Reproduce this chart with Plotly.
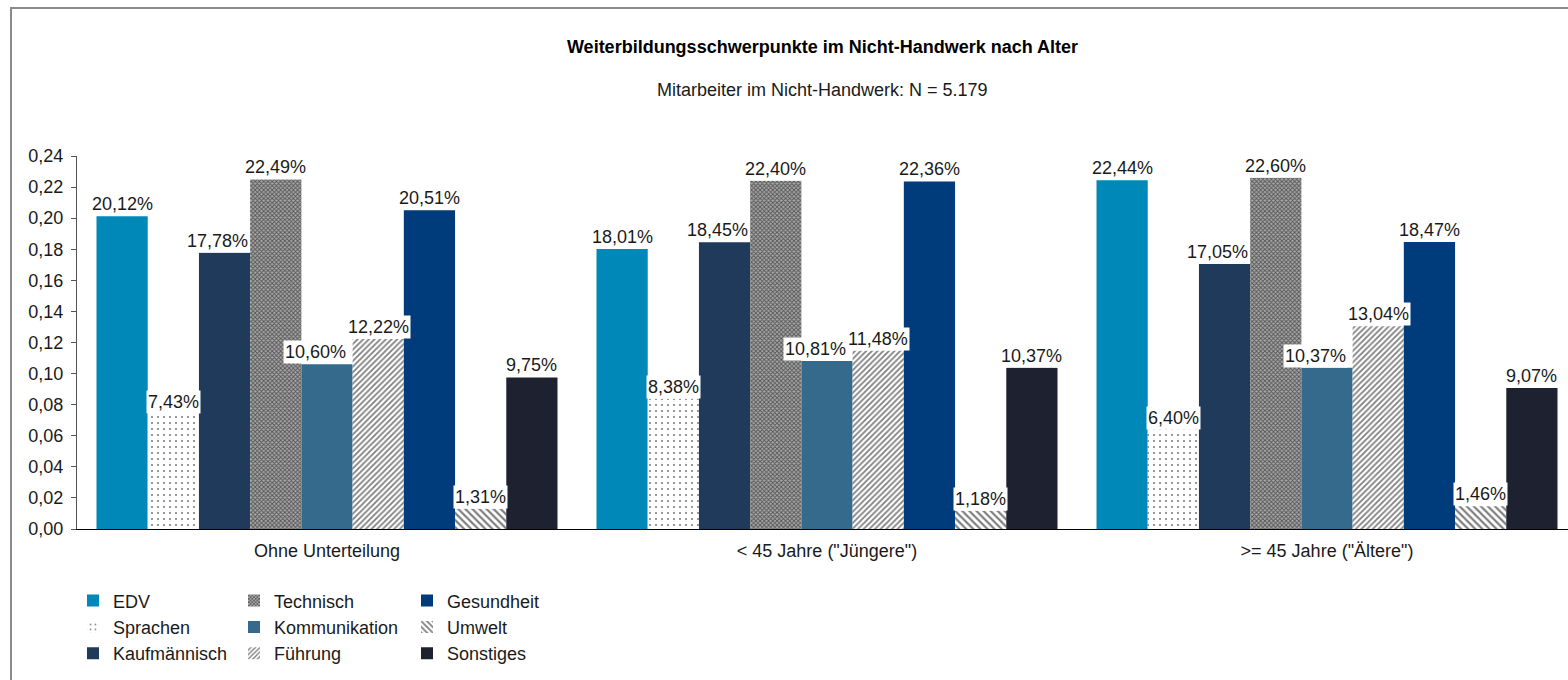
import plotly.graph_objects as go

# Data: share of training focus areas by age group (non-craft employees)
groups = ["Ohne Unterteilung", "< 45 Jahre (\"Jüngere\")", ">= 45 Jahre (\"Ältere\")"]
areas = ["EDV", "Sprachen", "Kaufmännisch", "Technisch", "Kommunikation",
         "Führung", "Gesundheit", "Umwelt", "Sonstiges"]

edv = [20.12, 18.01, 22.44]
sprachen = [7.43, 8.38, 6.40]
kaufmaennisch = [17.78, 18.45, 17.05]
technisch = [22.49, 22.40, 22.60]
kommunikation = [10.60, 10.81, 10.37]
fuehrung = [12.22, 11.48, 13.04]
gesundheit = [20.51, 22.36, 18.47]
umwelt = [1.31, 1.18, 1.46]
sonstiges = [9.75, 10.37, 9.07]

series = [edv, sprachen, kaufmaennisch, technisch, kommunikation,
          fuehrung, gesundheit, umwelt, sonstiges]

y_ticks = [0.00, 0.02, 0.04, 0.06, 0.08, 0.10, 0.12, 0.14, 0.16, 0.18, 0.20, 0.22, 0.24]

FONT = "Liberation Sans, Arial, sans-serif"
TXT = "#1a1a1a"

solid = lambda c: dict(color=c, line=dict(width=0))
styles = [
    solid("#0088B8"),
    dict(color="white", line=dict(width=0),
         pattern=dict(shape=".", fgcolor="#000000", bgcolor="white", size=6, solidity=0.1)),
    solid("#1F3A5A"),
    dict(color="#777777", line=dict(width=0),
         pattern=dict(shape="x", fgcolor="#000000", bgcolor="#a8a8a8", size=3, solidity=0.5)),
    solid("#356A8D"),
    dict(color="white", line=dict(width=0),
         pattern=dict(shape="/", fgcolor="#000000", bgcolor="white", size=4, solidity=0.45)),
    solid("#003B7B"),
    dict(color="white", line=dict(width=0),
         pattern=dict(shape="\\", fgcolor="#000000", bgcolor="white", size=5, solidity=0.45)),
    solid("#1E2130"),
]
legend_of = ["legend", "legend", "legend", "legend2", "legend2", "legend2",
             "legend3", "legend3", "legend3"]
# small horizontal nudges so neighbouring value labels don't collide
label_shift = [0, 0, -7, 0, -12, 0, 0, 0, 0]

BARGAP = 0.078
gx = list(range(len(groups)))

fig = go.Figure()
for i, (name, vals) in enumerate(zip(areas, series)):
    fig.add_trace(go.Bar(
        x=gx, y=[v / 100 for v in vals], name=name,
        marker=styles[i], legend=legend_of[i], hoverinfo="skip",
    ))

# Value labels with white boxes above each bar
step = (1 - BARGAP) / len(areas)
for i, vals in enumerate(series):
    for g, v in zip(gx, vals):
        fig.add_annotation(
            x=g + (i - (len(areas) - 1) / 2) * step, y=v / 100,
            text=f"{v:.2f}%".replace(".", ","), showarrow=False,
            yanchor="bottom", xanchor="center", bgcolor="white", borderpad=1,
            xshift=label_shift[i],
            font=dict(family=FONT, size=18, color=TXT),
        )

fig.add_annotation(
    xref="paper", yref="paper", x=0.5, y=(529 - 90) / 373, yanchor="middle",
    text="Mitarbeiter im Nicht-Handwerk: N = 5.179", showarrow=False,
    font=dict(family=FONT, size=18, color=TXT),
)

# Outer frame
fig.add_shape(type="rect", xref="paper", yref="paper",
              x0=(11 - 77) / 1491, x1=1.05, y0=-0.5, y1=(529 - 8) / 373,
              line=dict(color="#8a8a8a", width=2), layer="below")

leg_common = dict(orientation="v", yanchor="top", y=-0.143, xanchor="left",
                  font=dict(family=FONT, size=18, color=TXT),
                  bgcolor="rgba(0,0,0,0)", traceorder="normal", tracegroupgap=0)

fig.update_layout(
    width=1568, height=680,
    margin=dict(l=77, r=0, t=156, b=151),
    paper_bgcolor="white", plot_bgcolor="white",
    separators=",.",
    barmode="group", bargap=BARGAP, bargroupgap=0,
    font=dict(family=FONT, size=18, color=TXT),
    title=dict(text="<b>Weiterbildungsschwerpunkte im Nicht-Handwerk nach Alter</b>",
               x=0.5, xref="paper", xanchor="center",
               y=1 - 47 / 680, yanchor="middle",
               font=dict(family=FONT, size=18, color="black")),
    xaxis=dict(range=[-0.5, 2.482], tickvals=gx, ticktext=groups, ticks="",
               showline=True, linecolor="black", linewidth=1, showgrid=False,
               zeroline=False, ticklabelstandoff=5,
               tickfont=dict(family=FONT, size=18, color=TXT)),
    yaxis=dict(range=[0, 0.24], tickvals=y_ticks, tickformat=".2f",
               ticks="outside", ticklen=5, tickcolor="#555555",
               showline=True, linecolor="#555555", linewidth=1, showgrid=False,
               zeroline=False, ticklabelstandoff=4,
               tickfont=dict(family=FONT, size=18, color=TXT)),
    legend=dict(x=(73 - 77) / 1491, **leg_common),
    legend2=dict(x=(234 - 77) / 1491, **leg_common),
    legend3=dict(x=(407 - 77) / 1491, **leg_common),
)

fig.write_html("out.html")
